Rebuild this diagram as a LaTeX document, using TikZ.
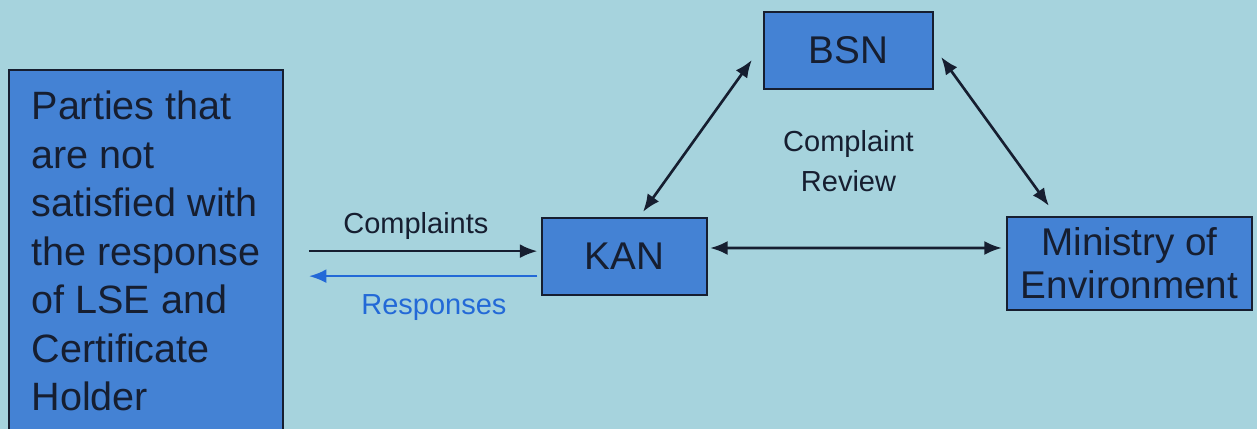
\documentclass[tikz,border=0pt]{standalone}
\usepackage{fontspec}
\setmainfont{Liberation Sans}
\definecolor{boxblue}{RGB}{68, 130, 212}
\definecolor{bgaqua}{RGB}{166, 211, 221}
\definecolor{inkdark}{RGB}{22, 30, 48}
\definecolor{respblue}{RGB}{35, 105, 215}
\usetikzlibrary{arrows.meta, positioning, calc}

\begin{document}
\begin{tikzpicture}[
  org/.style={draw=inkdark, line width=1.3pt, fill=boxblue, text=inkdark,
              font=\fontsize{22}{24.6}\selectfont, align=center, inner sep=2pt},
  link/.style={{Latex[length=10pt,width=8pt]}-{Latex[length=10pt,width=8pt]},
               line width=1.5pt, inkdark},
  flow/.style={-{Latex[length=10pt,width=8pt]}, line width=1.5pt},
  lbl/.style={font=\fontsize{16.5}{23}\selectfont, inner sep=0pt, align=center},
]
% Background
\fill[bgaqua] (0,0) rectangle (25.14,8.58);
\useasboundingbox (0,0) rectangle (25.14,8.58);

% Parties box (runs past the bottom edge)
\node[org, anchor=north west, align=left, inner xsep=0.45cm,
      inner ysep=0.42cm, font=\fontsize{22.5}{27.6}\selectfont] (parties) at (0.16,7.2)
{Parties that\\are not\\satisfied with\\the response\\of LSE and\\Certificate\\Holder};

% Bodies
\node[org, minimum width=3.38cm, minimum height=1.54cm] (bsn) at (16.97,7.57) {BSN};
\node[org, minimum width=3.3cm, minimum height=1.54cm] (kan) at (12.49,3.45) {KAN};
\node[org, minimum width=4.9cm, minimum height=1.86cm] (ministry) at (22.59,3.31)
{Ministry of\\Environment};

\node[lbl, text=inkdark, below=0.8cm of bsn] (review) {Complaint\\Review};

% Review triangle
\draw[link] ($(kan.north)+(0.37,0.1)$) -- ($(bsn.west)+(-0.22,-0.19)$);
\draw[link] ($(bsn.east)+(0.14,-0.13)$) -- ($(ministry.north west)+(0.86,0.2)$);
\draw[link] ($(kan.east)+(0.04,0.17)$) -- ($(ministry.west)+(-0.08,0.31)$);

% Complaints and responses
\coordinate (cstart) at ($(parties.east)+(0.5,0)$);
\coordinate (rstart) at ($(parties.east)+(0.5,-0.5)$);
\draw[flow, inkdark, shorten >=2pt] (cstart) -- (cstart -| kan.west)
  node[midway, above=0.2cm, xshift=-0.18cm, lbl, text=inkdark] (complaints) {Complaints};
\draw[flow, respblue, shorten <=2pt] (rstart -| kan.west) -- (rstart)
  node[midway, below=0.34cm, xshift=0.18cm, lbl, text=respblue] (responses) {Responses};
\end{tikzpicture}
\end{document}
